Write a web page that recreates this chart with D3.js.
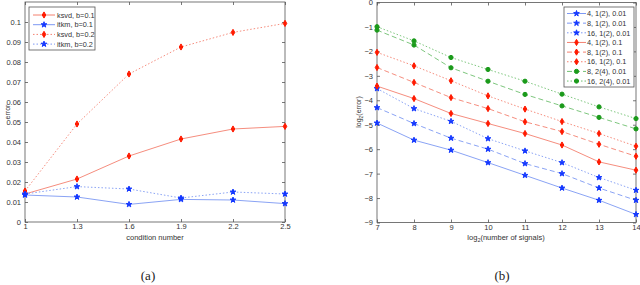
<!DOCTYPE html>
<html>
<head>
<meta charset="utf-8">
<script src="https://cdn.jsdelivr.net/npm/d3@7"></script>
<style>
body { margin: 0; background: #fff; }
svg text { font-family: "Liberation Sans", Arial, sans-serif; fill: #333; }
</style>
</head>
<body>
<div id="chart"></div>
<script>
// data, panel (a)
var condNumbers = [1, 1.3, 1.6, 1.9, 2.2, 2.5];
var ksvd01 = [0.014, 0.0215, 0.033, 0.0415, 0.0465, 0.0478];
var itkm01 = [0.0135, 0.0125, 0.0088, 0.0113, 0.011, 0.0092];
var ksvd02 = [0.0155, 0.049, 0.074, 0.0875, 0.0948, 0.0993];
var itkm02 = [0.014, 0.0177, 0.0165, 0.012, 0.015, 0.014];
var yTicksA = [0, 0.01, 0.02, 0.03, 0.04, 0.05, 0.06, 0.07, 0.08, 0.09, 0.1];

// data, panel (b)
var log2Signals = [7, 8, 9, 10, 11, 12, 13, 14];
var b4_001 = [-4.93, -5.63, -6.04, -6.55, -7.07, -7.59, -8.09, -8.67];
var b8_001 = [-4.3, -4.95, -5.55, -6.0, -6.59, -7.0, -7.59, -8.09];
var b16_001 = [-3.52, -4.34, -4.86, -5.57, -6.07, -6.55, -7.16, -7.68];
var r4_01 = [-3.42, -3.93, -4.54, -4.95, -5.36, -5.83, -6.52, -6.86];
var r8_01 = [-2.66, -3.27, -3.89, -4.34, -4.88, -5.28, -5.8, -6.29];
var r16_01 = [-2.04, -2.59, -3.2, -3.82, -4.36, -4.87, -5.36, -5.88];
var g8_001 = [-1.13, -1.74, -2.67, -3.22, -3.76, -4.23, -4.7, -5.17];
var g16_001 = [-0.99, -1.57, -2.25, -2.74, -3.22, -3.75, -4.27, -4.75];
var yTicksB = [0, -1, -2, -3, -4, -5, -6, -7, -8, -9];

var svg = d3.select("#chart").append("svg")
    .attr("width", 640)
    .attr("height", 285);

// styles
var RED_L = "#f4806f", RED_M = "#ff1a00";
var BLUE_L = "#7d98f3", BLUE_M = "#1438ff";
var GREEN_L = "#6fbf6f", GREEN_M = "#1a9a1a";
var dashes = { solid: null, dashed: "5,3", dotted: "1.5,2" };

function marker(g, kind, x, y, col) {
    var type = kind == "d" ? d3.symbolDiamond : (kind == "s" ? d3.symbolStar : d3.symbolCircle);
    var size = kind == "d" ? 11 : (kind == "s" ? 10 : 14);
    g.append("path")
        .attr("d", d3.symbol().type(type).size(size)())
        .attr("transform", "translate(" + x + "," + y + ")")
        .attr("fill", col)
        .attr("stroke", col)
        .attr("stroke-width", 1);
}

function panel(cfg) {
    var x = d3.scaleLinear().domain(cfg.xDomain).range([cfg.left, cfg.right]);
    var y = d3.scaleLinear().domain(cfg.yDomain).range([cfg.bottom, cfg.top]);
    var g = svg.append("g");

    // box
    g.append("rect")
        .attr("x", cfg.left).attr("y", cfg.top)
        .attr("width", cfg.right - cfg.left).attr("height", cfg.bottom - cfg.top)
        .attr("fill", "none").attr("stroke", "#555").attr("stroke-width", 0.8);

    // axes with inward ticks
    var axB = g.append("g").attr("transform", "translate(0," + cfg.bottom + ")")
        .call(d3.axisBottom(x).tickValues(cfg.xTicks).tickSizeInner(-3).tickSizeOuter(0).tickPadding(2).tickFormat(d3.format("~g")));
    var axT = g.append("g").attr("transform", "translate(0," + cfg.top + ")")
        .call(d3.axisTop(x).tickValues(cfg.xTicks).tickSizeInner(-3).tickSizeOuter(0).tickFormat(""));
    var axL = g.append("g").attr("transform", "translate(" + cfg.left + ",0)")
        .call(d3.axisLeft(y).tickValues(cfg.yTicks).tickSizeInner(-3).tickSizeOuter(0).tickPadding(4).tickFormat(cfg.yFormat));
    var axR = g.append("g").attr("transform", "translate(" + cfg.right + ",0)")
        .call(d3.axisRight(y).tickValues(cfg.yTicks).tickSizeInner(-3).tickSizeOuter(0).tickFormat(""));
    [axB, axT, axL, axR].forEach(function (a) {
        a.select(".domain").remove();
        a.selectAll("line").attr("stroke", "#555").attr("stroke-width", 0.8);
        a.selectAll("text").attr("font-size", 7.5).attr("fill", "#333")
            .style("font-family", "Liberation Sans, Arial, sans-serif");
    });

    var line = d3.line().x(function (d) { return x(d[0]); }).y(function (d) { return y(d[1]); });
    cfg.series.forEach(function (s) {
        var pts = cfg.xs.map(function (v, i) { return [v, s.values[i]]; });
        g.append("path")
            .attr("d", line(pts))
            .attr("fill", "none")
            .attr("stroke", s.line)
            .attr("stroke-width", 0.9)
            .attr("stroke-dasharray", dashes[s.style]);
        pts.forEach(function (p) { marker(g, s.kind, x(p[0]), y(p[1]), s.mark); });
    });

    // legend
    var L = cfg.legend;
    g.append("rect")
        .attr("x", L.x).attr("y", L.y).attr("width", L.w).attr("height", L.h)
        .attr("fill", "#fff").attr("stroke", "#555").attr("stroke-width", 0.8);
    cfg.series.forEach(function (s, i) {
        var yy = L.y + L.first + i * L.step;
        g.append("line")
            .attr("x1", L.x + L.l1).attr("x2", L.x + L.l2).attr("y1", yy).attr("y2", yy)
            .attr("stroke", s.line).attr("stroke-width", 1)
            .attr("stroke-dasharray", dashes[s.style]);
        marker(g, s.kind, L.x + (L.l1 + L.l2) / 2, yy, s.mark);
        g.append("text")
            .attr("x", L.x + L.textX).attr("y", yy + 2.7)
            .attr("font-size", 7.3)
            .text(s.name);
    });
    return g;
}

panel({
    xDomain: [1, 2.5], yDomain: [0, 0.11],
    left: 25, right: 285, top: 2, bottom: 222,
    xs: condNumbers, xTicks: condNumbers, yTicks: yTicksA,
    yFormat: function (d) { return d === 0 ? "0" : d3.format(".2~f")(d); },
    series: [
        { name: "ksvd, b=0.1", values: ksvd01, style: "solid", kind: "d", line: RED_L, mark: RED_M },
        { name: "itkm, b=0.1", values: itkm01, style: "solid", kind: "s", line: BLUE_L, mark: BLUE_M },
        { name: "ksvd, b=0.2", values: ksvd02, style: "dotted", kind: "d", line: RED_L, mark: RED_M },
        { name: "itkm, b=0.2", values: itkm02, style: "dotted", kind: "s", line: BLUE_L, mark: BLUE_M }
    ],
    legend: { x: 29, y: 7, w: 66, h: 43, first: 8, step: 9.7, l1: 4, l2: 26, textX: 28 }
});

panel({
    xDomain: [7, 14], yDomain: [-9, 0],
    left: 377, right: 636, top: 2.5, bottom: 222.5,
    xs: log2Signals, xTicks: log2Signals, yTicks: yTicksB,
    yFormat: function (d) { return d === 0 ? "0" : "\u2212" + Math.abs(d); },
    series: [
        { name: "4, 1(2), 0.01", values: b4_001, style: "solid", kind: "s", line: BLUE_L, mark: BLUE_M },
        { name: "8, 1(2), 0.01", values: b8_001, style: "dashed", kind: "s", line: BLUE_L, mark: BLUE_M },
        { name: "16, 1(2), 0.01", values: b16_001, style: "dotted", kind: "s", line: BLUE_L, mark: BLUE_M },
        { name: "4, 1(2), 0.1", values: r4_01, style: "solid", kind: "d", line: RED_L, mark: RED_M },
        { name: "8, 1(2), 0.1", values: r8_01, style: "dashed", kind: "d", line: RED_L, mark: RED_M },
        { name: "16, 1(2), 0.1", values: r16_01, style: "dotted", kind: "d", line: RED_L, mark: RED_M },
        { name: "8, 2(4), 0.01", values: g8_001, style: "dashed", kind: "o", line: GREEN_L, mark: GREEN_M },
        { name: "16, 2(4), 0.01", values: g16_001, style: "dotted", kind: "o", line: GREEN_L, mark: GREEN_M }
    ],
    legend: { x: 564, y: 7, w: 70, h: 80, first: 6.5, step: 9.65, l1: 3, l2: 22, textX: 23 }
});

// axis titles
svg.append("text").attr("transform", "translate(10,112) rotate(-90)")
    .attr("text-anchor", "middle").attr("font-size", 7).text("error");
svg.append("text").attr("x", 155).attr("y", 240)
    .attr("text-anchor", "middle").attr("font-size", 7.5).text("condition number");

var yl = svg.append("text").attr("transform", "translate(361,112) rotate(-90)")
    .attr("text-anchor", "middle").attr("font-size", 7);
yl.append("tspan").text("log");
yl.append("tspan").attr("font-size", 5).attr("dy", 2).text("2");
yl.append("tspan").attr("dy", -2).text("(error)");

var xl = svg.append("text").attr("x", 506).attr("y", 240)
    .attr("text-anchor", "middle").attr("font-size", 7.5);
xl.append("tspan").text("log");
xl.append("tspan").attr("font-size", 5.5).attr("dy", 2).text("2");
xl.append("tspan").attr("dy", -2).text("(number of signals)");

// captions
svg.append("text").attr("x", 148).attr("y", 280).attr("text-anchor", "middle")
    .attr("font-size", 13).style("font-family", "Liberation Serif, serif").style("fill", "#222").text("(a)");
svg.append("text").attr("x", 502).attr("y", 280).attr("text-anchor", "middle")
    .attr("font-size", 13).style("font-family", "Liberation Serif, serif").style("fill", "#222").text("(b)");
</script>
</body>
</html>
